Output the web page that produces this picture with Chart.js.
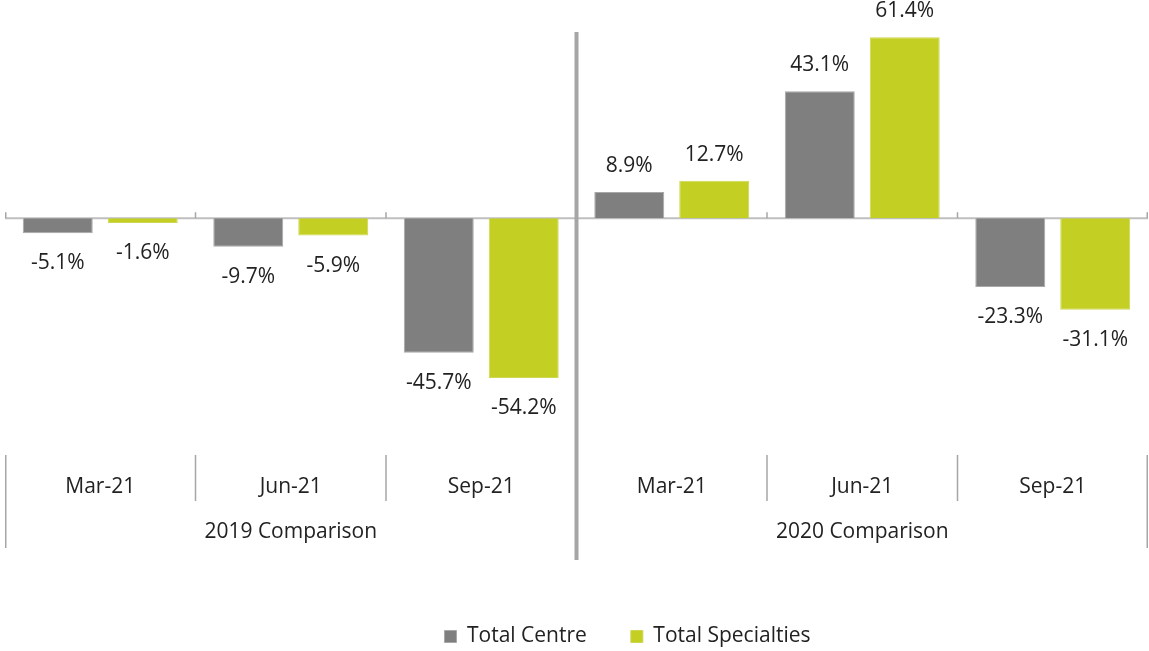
<!DOCTYPE html>
<html>
<head>
<meta charset="utf-8">
<script src="https://cdn.jsdelivr.net/npm/chart.js@4/dist/chart.umd.min.js"></script>
<style>
  html, body { margin: 0; padding: 0; background: #ffffff; }
  #wrap { width: 1149px; height: 651px; }
</style>
</head>
<body>
<div id="wrap"><canvas id="c"></canvas></div>
<script>
// ---- data ----
const months = ['Mar-21', 'Jun-21', 'Sep-21', 'Mar-21', 'Jun-21', 'Sep-21'];
const groups = ['2019 Comparison', '2020 Comparison'];
const groupSize = 3;
const totalCentre = [-5.1, -9.7, -45.7, 8.9, 43.1, -23.3];
const totalSpecialties = [-1.6, -5.9, -54.2, 12.7, 61.4, -31.1];
const seriesNames = ['Total Centre', 'Total Specialties'];

const FONT = 'Open Sans';
const FS = 21;
const TXT = '#222222';

const labelPlugin = {
  id: 'decor',
  afterLayout(chart) {
    // shift the legend to the right like the original
    const lg = chart.legend;
    if (lg) { lg.left += 51; lg.right += 51; }
  },
  beforeDatasetsDraw(chart) {
    const {ctx, chartArea, scales} = chart;
    const x = scales.x, y = scales.y;
    const y0 = y.getPixelForValue(0);
    const half = (x.getPixelForValue(1) - x.getPixelForValue(0)) / 2;
    ctx.save();
    // zero line
    ctx.strokeStyle = '#bfbfbf';
    ctx.lineWidth = 2;
    ctx.beginPath();
    ctx.moveTo(chartArea.left, y0);
    ctx.lineTo(chartArea.right, y0);
    ctx.stroke();
    // small ticks at category boundaries
    ctx.lineWidth = 1.5;
    ctx.strokeStyle = '#a6a6a6';
    for (let i = 0; i <= months.length; i++) {
      if (i === groupSize) continue;
      const bx = Math.min(Math.max(x.getPixelForValue(i) - half, chartArea.left + 0.75), chartArea.right - 0.75);
      ctx.beginPath();
      ctx.moveTo(bx, y0 - 6);
      ctx.lineTo(bx, y0);
      ctx.stroke();
    }
    ctx.restore();
  },
  afterDatasetsDraw(chart) {
    const {ctx} = chart;
    ctx.save();
    ctx.font = FS + 'px "' + FONT + '"';
    ctx.fillStyle = TXT;
    ctx.textAlign = 'center';
    ctx.textBaseline = 'middle';
    chart.data.datasets.forEach((ds, di) => {
      const meta = chart.getDatasetMeta(di);
      meta.data.forEach((bar, i) => {
        const v = ds.data[i];
        const ty = v >= 0 ? bar.y - 26 : bar.y + 30;
        ctx.fillText(v.toFixed(1) + '%', bar.x, ty);
      });
    });
    ctx.restore();
  },
  afterDraw(chart) {
    const {ctx, chartArea, scales} = chart;
    const x = scales.x;
    const half = (x.getPixelForValue(1) - x.getPixelForValue(0)) / 2;
    ctx.save();
    // thick divider between comparison groups
    const dx = x.getPixelForValue(groupSize) - half;
    ctx.strokeStyle = '#a6a6a6';
    ctx.lineWidth = 4;
    ctx.beginPath();
    ctx.moveTo(dx, 32);
    ctx.lineTo(dx, 560);
    ctx.stroke();
    // category separators
    ctx.lineWidth = 1.5;
    for (let i = 0; i <= months.length; i++) {
      if (i === groupSize) continue;
      let bx = x.getPixelForValue(i) - half;
      bx = Math.min(Math.max(bx, chartArea.left + 0.75), chartArea.right - 0.75);
      const outer = (i === 0 || i === months.length);
      ctx.beginPath();
      ctx.moveTo(bx, 455);
      ctx.lineTo(bx, outer ? 548 : 501);
      ctx.stroke();
    }
    // month labels
    ctx.font = FS + 'px "' + FONT + '"';
    ctx.fillStyle = TXT;
    ctx.textAlign = 'center';
    ctx.textBaseline = 'middle';
    months.forEach((m, i) => ctx.fillText(m, x.getPixelForValue(i), 487));
    // group labels
    groups.forEach((g, gi) => {
      const a = x.getPixelForValue(gi * groupSize) - half;
      const b = x.getPixelForValue(gi * groupSize + groupSize - 1) + half;
      ctx.fillText(g, (a + b) / 2, 532);
    });
    ctx.restore();
  }
};

new Chart(document.getElementById('c'), {
  type: 'bar',
  data: {
    labels: months,
    datasets: [
      { label: seriesNames[0], data: totalCentre, backgroundColor: '#7f7f7f', borderColor: '#a8a8a8', borderWidth: 1 },
      { label: seriesNames[1], data: totalSpecialties, backgroundColor: '#c3cf22', borderColor: '#cdd753', borderWidth: 1 }
    ]
  },
  options: {
    responsive: true,
    maintainAspectRatio: false,
    animation: false,
    categoryPercentage: 0.892,
    barPercentage: 0.8235,
    layout: { padding: { top: 12, left: 5, right: 1, bottom: -6 } },
    scales: {
      x: {
        display: true,
        grid: { display: false },
        border: { display: false },
        ticks: { display: false },
        afterFit(s) { s.height = 187; }
      },
      y: {
        display: false,
        min: -60,
        max: 70
      }
    },
    plugins: {
      legend: {
        position: 'bottom',
        align: 'center',
        labels: {
          boxWidth: 12,
          boxHeight: 12,
          padding: 44,
          color: TXT,
          font: { family: FONT, size: FS }
        }
      },
      tooltip: { enabled: false }
    }
  },
  plugins: [labelPlugin]
});
</script>
</body>
</html>
